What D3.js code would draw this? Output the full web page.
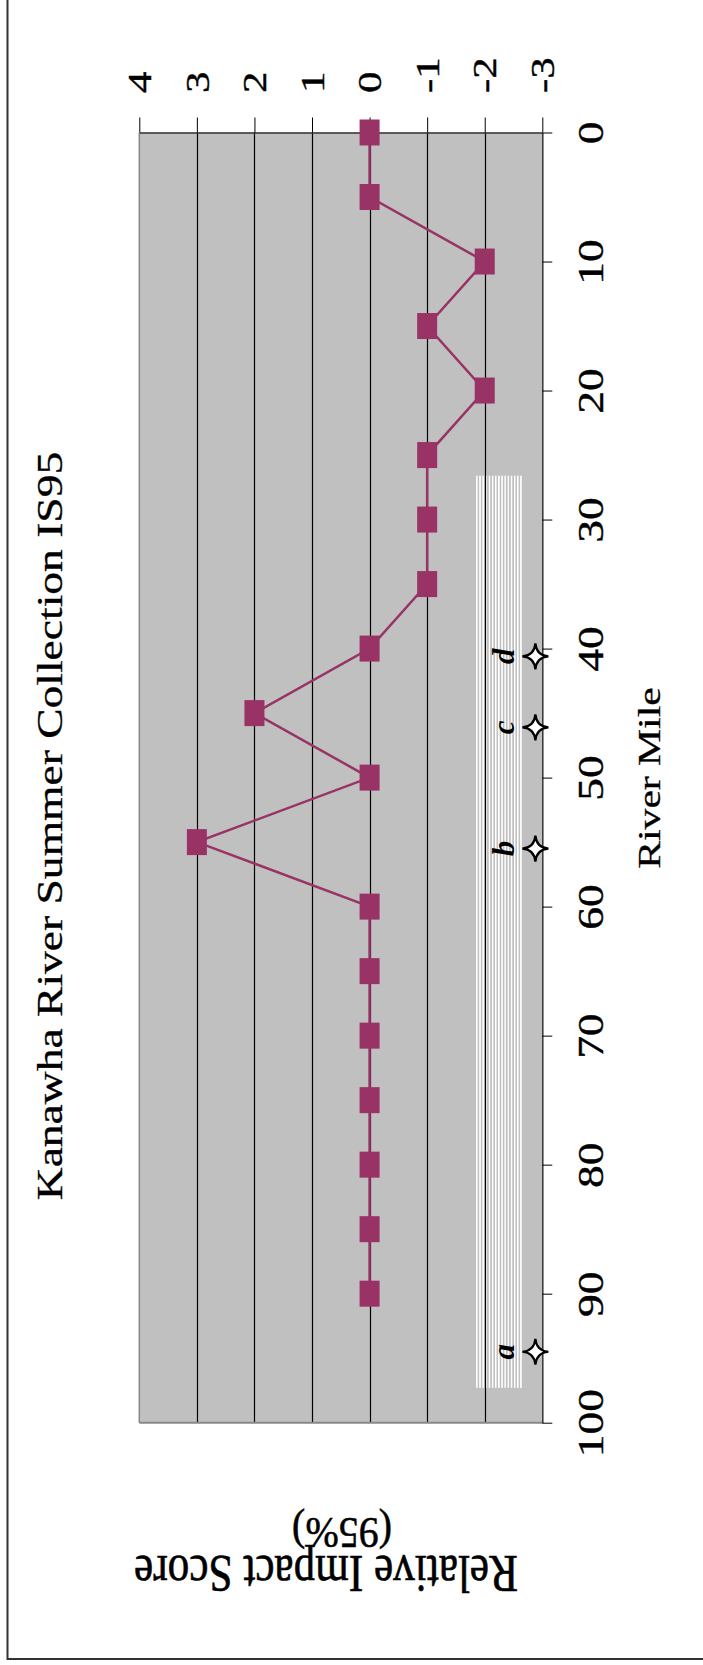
<!DOCTYPE html>
<html>
<head>
<meta charset="utf-8">
<script src="https://cdn.jsdelivr.net/npm/d3@7"></script>
<style>
html,body{margin:0;padding:0;background:#fff;}
svg{display:block;}
text{font-family:"Liberation Serif","Times New Roman",serif;fill:#000;}
</style>
</head>
<body>
<svg id="chart" width="703" height="1665"></svg>
<script>
// ---- data ----
const miles = [0,5,10,15,20,25,30,35,40,45,50,55,60,65,70,75,80,85,90];
const scores = [0,0,-2,-1,-2,-1,-1,-1,0,2,0,3,0,0,0,0,0,0,0];
const scoreTicks = [4,3,2,1,0,-1,-2,-3];
const gridScores = [3,2,1,0,-1,-2];
const mileTicks = [0,10,20,30,40,50,60,70,80,90,100];
const siteLabels = ["a","b","c","d"];
const siteMiles = [94.5,55.5,46.1,40.6];
const siteScore = -2.88;
const bandMiles = [26.6,97.3];
const bandScores = [-1.85,-2.66];
const titleText = "Kanawha River Summer Collection IS95";
const xTitle = "River Mile";
const yTitleLines = ["Relative Impact Score","(95%)"];

(function(){
// ---- layout ----
const svg = d3.select("#chart");
const S = 1.3; // stretch along the page's vertical direction
const pL = 139.3, pR = 542.3, pT = 132.5, pB = 1422.7;
const x = d3.scaleLinear().domain([4,-3]).range([pL,pR]);
const y = d3.scaleLinear().domain([0,100]).range([pT,pB]);
const purple = "#993366";

// frame
svg.append("path").attr("d",`M7.5,0 V1659 H703`).attr("fill","none").attr("stroke","#333").attr("stroke-width",2);

// plot area
svg.append("rect").attr("x",pL).attr("y",pT).attr("width",pR-pL).attr("height",pB-pT).attr("fill","#c0c0c0");

// striped band
const defs = svg.append("defs");
const pat = defs.append("pattern").attr("id","stripes").attr("patternUnits","userSpaceOnUse")
  .attr("x",x(bandScores[0])).attr("y",0).attr("width",3.15).attr("height",10);
pat.append("rect").attr("width",3.15).attr("height",10).attr("fill","#c0c0c0");
pat.append("rect").attr("width",1.5).attr("height",10).attr("fill","#fff");
svg.append("rect").attr("x",x(bandScores[0])).attr("y",y(bandMiles[0]))
  .attr("width",x(bandScores[1])-x(bandScores[0])).attr("height",y(bandMiles[1])-y(bandMiles[0]))
  .attr("fill","url(#stripes)");

// gridlines
svg.append("g").selectAll("line").data(gridScores).join("line")
  .attr("x1",d=>Math.round(x(d))+0.5).attr("x2",d=>Math.round(x(d))+0.5)
  .attr("y1",pT).attr("y2",pB).attr("stroke","#000").attr("stroke-width",1.2);

// plot edges
svg.append("line").attr("x1",pL).attr("x2",pL).attr("y1",pT).attr("y2",pB).attr("stroke","#888").attr("stroke-width",1.5);
svg.append("line").attr("x1",pL).attr("x2",pR).attr("y1",pB).attr("y2",pB).attr("stroke","#888").attr("stroke-width",2);

// score axis (top)
const gx = svg.append("g").attr("transform",`translate(0,${pT})`)
  .call(d3.axisTop(x).tickValues(scoreTicks).tickSize(15).tickSizeOuter(0).tickFormat(d3.format("d")));
gx.select(".domain").attr("stroke","#333").attr("stroke-width",1.5);
gx.selectAll(".tick line").attr("stroke","#000");
gx.selectAll(".tick text")
  .attr("x",null).attr("y",null).attr("dy","0.34em")
  .attr("text-anchor","start").attr("font-size",33)
  .attr("stroke","#000").attr("stroke-width",0.4)
  .attr("transform",`translate(0,${93-pT}) rotate(-90) scale(${S},1)`)
  .text(d=>d<0?"-"+Math.abs(d):d);

// mile axis (right)
const gy = svg.append("g").attr("transform",`translate(${pR},0)`)
  .call(d3.axisRight(y).tickValues(mileTicks).tickSize(10).tickSizeOuter(0).tickFormat(d3.format("d")));
gy.select(".domain").attr("stroke","#333").attr("stroke-width",1.5);
gy.selectAll(".tick line").attr("stroke","#000");
gy.selectAll(".tick text")
  .attr("x",null).attr("y",null).attr("dy",0)
  .attr("text-anchor","middle").attr("font-size",35)
  .attr("stroke","#000").attr("stroke-width",0.4)
  .attr("transform",`translate(${603-pR},0) rotate(-90) scale(${S},1)`);

// line
const line = d3.line().x((d,i)=>x(scores[i])).y(d=>y(d));
svg.append("path").datum(miles).attr("d",line).attr("fill","none").attr("stroke",purple).attr("stroke-width",2.5);

// markers
const mw = 20, mh = 26;
svg.append("g").selectAll("rect").data(miles).join("rect")
  .attr("x",(d,i)=>x(scores[i])-mw/2).attr("y",d=>y(d)-mh/2)
  .attr("width",mw).attr("height",mh).attr("fill",purple);

// stars and site letters
const starPath = (r)=>{
  const k = r*0.08;
  return `M0,${-r} Q${k},${-k} ${r},0 Q${k},${k} 0,${r} Q${-k},${k} ${-r},0 Q${-k},${-k} 0,${-r}Z`;
};
const sites = svg.append("g").selectAll("g").data(siteMiles).join("g")
  .attr("transform",d=>`translate(${x(siteScore)},${y(d)})`);
sites.append("path").attr("d",starPath(13)).attr("fill","#fff").attr("stroke","#000").attr("stroke-width",2.2).attr("stroke-linejoin","miter");
sites.append("text").text((d,i)=>siteLabels[i])
  .attr("font-size",31).attr("font-style","italic").attr("font-weight","bold")
  .attr("text-anchor","middle")
  .attr("transform",`translate(-21,0) rotate(-90)`);

// titles
svg.append("text").text(titleText).attr("font-size",36).attr("text-anchor","middle")
  .attr("stroke","#000").attr("stroke-width",0.3)
  .attr("transform",`translate(62,826) rotate(-90) scale(1.265,1)`);
svg.append("text").text(xTitle).attr("font-size",32).attr("text-anchor","middle")
  .attr("stroke","#000").attr("stroke-width",0.3)
  .attr("transform",`translate(660,778) rotate(-90) scale(${S},1)`);
svg.append("text").text(yTitleLines[0]).attr("font-size",40).attr("text-anchor","middle")
  .attr("stroke","#000").attr("stroke-width",0.5)
  .attr("transform",`translate(326,1556) rotate(180) scale(1.08,${S})`);
svg.append("text").text(yTitleLines[1]).attr("font-size",40).attr("text-anchor","middle")
  .attr("stroke","#000").attr("stroke-width",0.5)
  .attr("transform",`translate(342,1518) rotate(180) scale(1,1.1)`);
})();
</script>
</body>
</html>
